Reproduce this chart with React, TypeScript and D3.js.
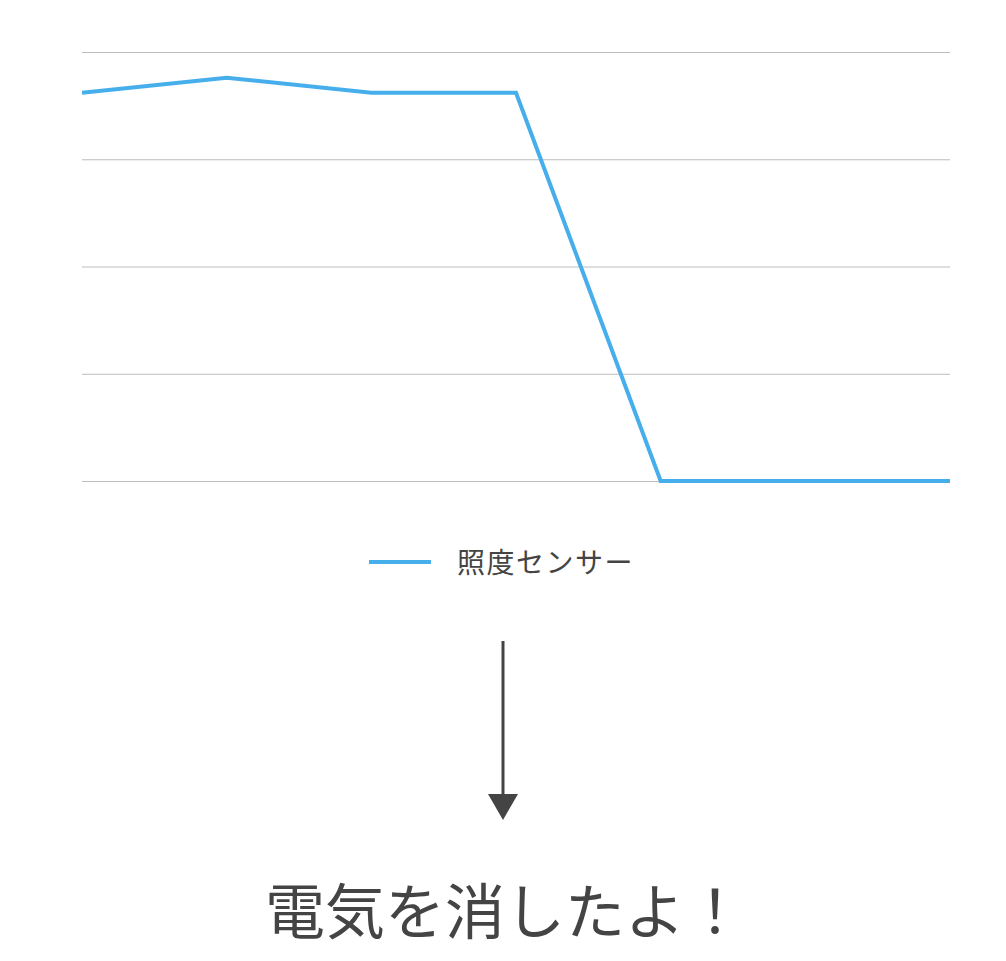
import { useEffect, useRef } from 'react';
import * as d3 from 'd3';

// illuminance readings (no axis labels shown in the picture)
const steps = ['1', '2', '3', '4', '5', '6', '7'];
const lux = [362, 376, 362, 362, 0, 0, 0];
const gridTicks = [0, 100, 200, 300, 400];
const seriesName = '照度センサー';
const message = '電気を消したよ！';

export default function App() {
  const ref = useRef<SVGSVGElement | null>(null);

  useEffect(() => {
    const svg = d3.select(ref.current);
    svg.selectAll('*').remove();

    const font = '"Noto Sans CJK JP", "Noto Sans", sans-serif';
    const x = d3.scalePoint<string>().domain(steps).range([82, 950]);
    const y = d3.scaleLinear().domain([0, 400]).range([481, 52]);

    // grid
    svg.append('g')
      .selectAll('line')
      .data(gridTicks)
      .join('line')
      .attr('x1', 82)
      .attr('x2', 950)
      .attr('y1', d => y(d) + 0.5)
      .attr('y2', d => y(d) + 0.5)
      .attr('stroke', '#bcbcbc')
      .attr('stroke-width', 1);

    const line = d3.line<number>()
      .x((d, i) => x(steps[i]) as number)
      .y(d => y(d));

    svg.append('path')
      .datum(lux)
      .attr('fill', 'none')
      .attr('stroke', '#47aeec')
      .attr('stroke-width', 4)
      .attr('stroke-linejoin', 'miter')
      .attr('d', line);

    // legend
    const legend = svg.append('g');
    legend.append('line')
      .attr('x1', 369).attr('x2', 431)
      .attr('y1', 562).attr('y2', 562)
      .attr('stroke', '#47aeec')
      .attr('stroke-width', 4);
    legend.append('text')
      .attr('x', 457)
      .attr('y', 573)
      .attr('font-family', font)
      .attr('font-size', 28)
      .attr('letter-spacing', 1.5)
      .attr('fill', '#444')
      .text(seriesName);

    // arrow
    svg.append('line')
      .attr('x1', 503).attr('x2', 503)
      .attr('y1', 641).attr('y2', 796)
      .attr('stroke', '#444')
      .attr('stroke-width', 3);
    svg.append('path')
      .attr('d', 'M488,794 L518,794 L503,820 Z')
      .attr('fill', '#444');

    svg.append('text')
      .attr('x', 505)
      .attr('y', 934)
      .attr('text-anchor', 'middle')
      .attr('font-family', font)
      .attr('font-size', 60)
      .attr('fill', '#444')
      .text(message);
  }, []);

  return (
    <svg
      ref={ref}
      width={1006}
      height={961}
      style={{ position: 'absolute', left: 0, top: 0, background: '#fff' }}
    />
  );
}
